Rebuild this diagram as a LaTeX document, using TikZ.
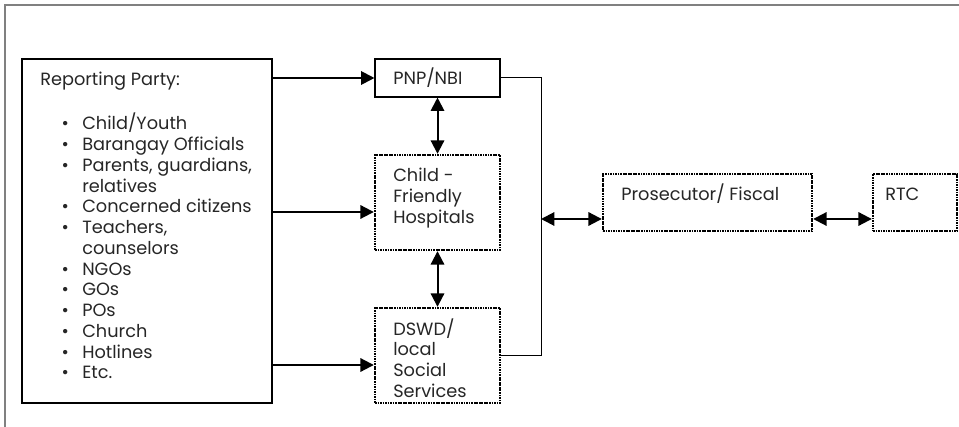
\documentclass[tikz,border=0pt]{standalone}
\usepackage{fontspec}
\setmainfont{Poppins}
\usetikzlibrary{arrows.meta}
\newcommand\bitem[1]{\makebox[31.5pt][l]{\hspace*{16pt}\textbullet}#1}
\newcommand\bcont[1]{\hspace*{31.5pt}#1}
\begin{document}
\begin{tikzpicture}[x=0.75pt,y=-0.75pt,
  solidbox/.style={draw, line width=0.8pt, inner sep=0pt},
  dotbox/.style={draw, line width=1.8pt, dash pattern=on 1.3pt off 0.6pt, inner sep=0pt},
  txt/.style={inner sep=0pt, anchor=base west, text=black!85, font=\fontsize{13.3}{15.56}\selectfont},
  arr/.style={line width=1.5pt, -{Triangle[length=10pt,width=10pt]}},
  dbl/.style={line width=1.5pt, {Triangle[length=10pt,width=10pt]}-{Triangle[length=10pt,width=10pt]}},
  link/.style={line width=0.75pt}]
\useasboundingbox (0,0) rectangle (959,427);
\draw[gray, line width=0.9pt] (5,427) -- (5,5) -- (959,5);
% boxes
\node[solidbox, minimum width=187.5pt, minimum height=258pt] (rep) at (147,231) {};
\node[solidbox, minimum width=93.75pt, minimum height=28.5pt] (pnp) at (437.5,78) {};
\node[dotbox, minimum width=93.75pt, minimum height=71.25pt] (cf) at (437.5,202.5) {};
\node[dotbox, minimum width=93.75pt, minimum height=71.25pt] (dswd) at (437.5,355.5) {};
\node[dotbox, minimum width=156.75pt, minimum height=42.75pt] (pros) at (707.5,202.5) {};
\node[dotbox, minimum width=63pt, minimum height=42.75pt] (rtc) at (915,202.5) {};
% texts
\node[txt] (reptxt) at (40,86) {\begin{tabular}[t]{@{}l@{}}
Reporting Party:\\[15.7pt]
\bitem{Child/Youth}\\
\bitem{Barangay Officials}\\
\bitem{Parents, guardians,}\\
\bcont{relatives}\\
\bitem{Concerned citizens}\\
\bitem{Teachers,}\\
\bcont{counselors}\\
\bitem{NGOs}\\
\bitem{GOs}\\
\bitem{POs}\\
\bitem{Church}\\
\bitem{Hotlines}\\
\bitem{Etc.}
\end{tabular}};
\node[txt] (pnptxt) at (393,85) {PNP/NBI};
\node[txt] (cftxt) at (393,181.7) {\begin{tabular}[t]{@{}l@{}}Child -\\Friendly\\Hospitals\end{tabular}};
\node[txt] (dswdtxt) at (393,335) {\begin{tabular}[t]{@{}l@{}}DSWD/\\local\\Social\\Services\end{tabular}};
\node[txt] (prostxt) at (621,200.5) {Prosecutor/ Fiscal};
\node[txt] (rtctxt) at (885,200.5) {RTC};
% connectors
\coordinate (ycf) at (0,212);
\coordinate (yds) at (0,365);
\coordinate (jn) at (541,219);
\draw[arr] (rep.east |- pnp.west) -- (pnp.west);
\draw[arr] (rep.east |- ycf) -- (cf.west |- ycf);
\draw[arr] (rep.east |- yds) -- (dswd.west |- yds);
\draw[dbl] (pnp.south) -- (cf.north);
\draw[dbl] (cf.south) -- (dswd.north);
\draw[link] (pnp.east) -- (pnp.east -| jn) -- (dswd.east -| jn) -- (dswd.east);
\draw[dbl] (jn) -- (jn -| pros.west);
\draw[dbl] (pros.east |- jn) -- (rtc.west |- jn);
\end{tikzpicture}
\end{document}
